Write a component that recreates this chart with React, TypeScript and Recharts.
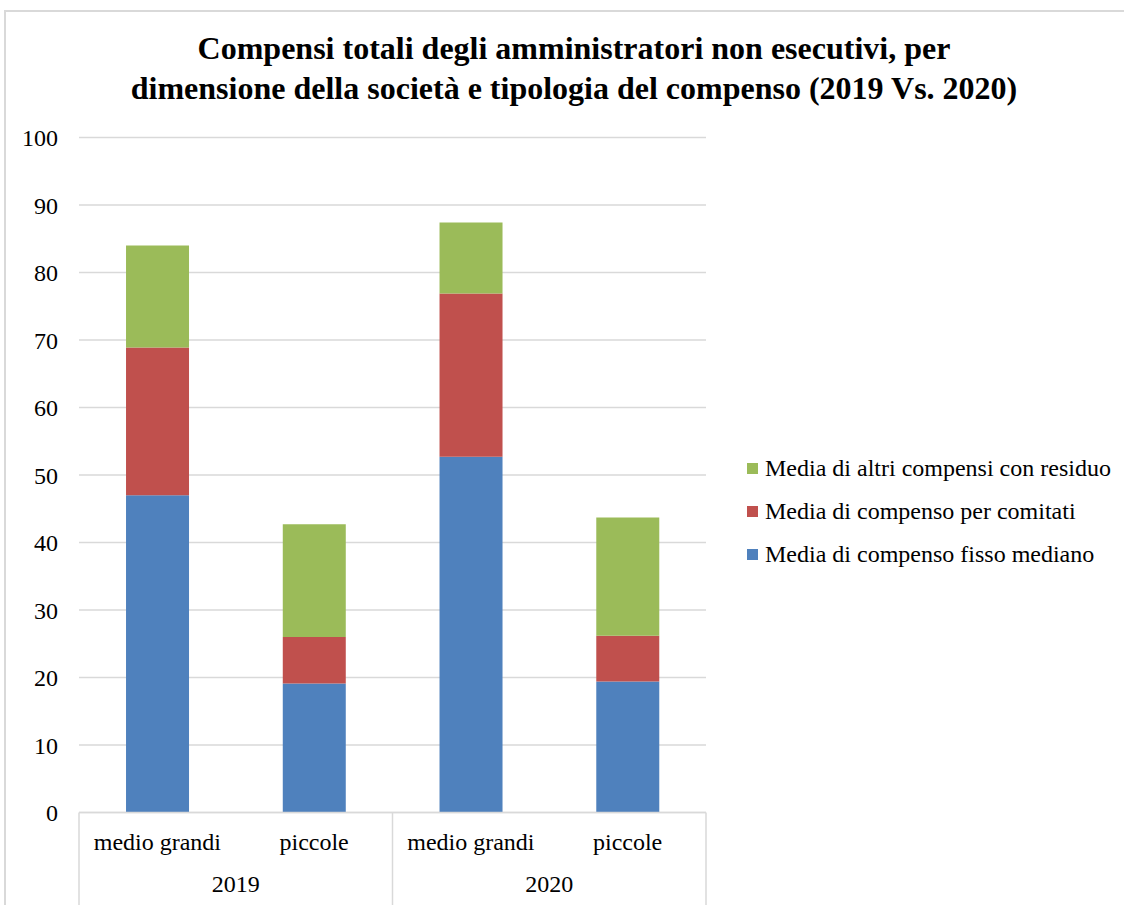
import React from "react";
import { BarChart, Bar, XAxis, YAxis, CartesianGrid, Legend } from "recharts";

const categories = ["medio grandi", "piccole", "medio grandi", "piccole"];
const years = ["2019", "2020"];
const fisso = [47.0, 19.1, 52.7, 19.4];
const comitati = [21.9, 6.9, 24.2, 6.8];
const altri = [15.1, 16.7, 10.5, 17.5];
const yTicks = [0, 10, 20, 30, 40, 50, 60, 70, 80, 90, 100];
const seriesNames = [
  "Media di compenso fisso mediano",
  "Media di compenso per comitati",
  "Media di altri compensi con residuo",
];
const seriesColors = ["#4f81bd", "#c0504d", "#9bbb59"];
const title = [
  "Compensi totali degli amministratori non esecutivi, per",
  "dimensione della società e tipologia del compenso (2019 Vs. 2020)",
];

const data = categories.map((c, i) => ({
  cat: c,
  idx: i,
  fisso: fisso[i],
  comitati: comitati[i],
  altri: altri[i],
}));

const FONT = "'Liberation Serif', 'Times New Roman', serif";
const GRID = "#d9d9d9";

const CatTick = (props: any) => {
  const { x, y, payload } = props;
  return (
    <text x={x} y={y + 32} textAnchor="middle" dominantBaseline="middle" fontFamily={FONT} fontSize={24} fill="#000">
      {categories[payload.value]}
    </text>
  );
};

const YearTick = (props: any) => {
  const { x, y, payload } = props;
  const v = payload.value;
  const isSep = Math.abs(v - Math.round(v + 0.5) + 0.5) < 1e-6 && [-0.5, 1.5, 3.5].includes(v);
  if (isSep) {
    return <line x1={x} x2={x} y1={y - 43} y2={y + 60} stroke={GRID} strokeWidth={1.5} />;
  }
  const yi = v < 1 ? 0 : 1;
  return (
    <text x={x} y={y + 31} textAnchor="middle" dominantBaseline="middle" fontFamily={FONT} fontSize={24} fill="#000">
      {years[yi]}
    </text>
  );
};

const LegendContent = () => {
  const order = [2, 1, 0];
  return (
    <div style={{ fontFamily: FONT, fontSize: 24, color: "#000" }}>
      {order.map((k) => (
        <div key={k} style={{ display: "flex", alignItems: "center", height: 43 }}>
          <span style={{ display: "inline-block", width: 11, height: 11, background: seriesColors[k], marginRight: 7 }} />
          <span style={{ whiteSpace: "nowrap" }}>{seriesNames[k]}</span>
        </div>
      ))}
    </div>
  );
};

export default function App() {
  return (
    <div style={{ position: "absolute", left: 0, top: 0, width: 1124, height: 905, background: "#fff", overflow: "hidden" }}>
      <div
        style={{
          position: "absolute",
          left: 4,
          top: 10,
          width: 1200,
          height: 1000,
          borderLeft: `2px solid ${GRID}`,
          borderTop: `2px solid ${GRID}`,
        }}
      />
      <div
        style={{
          position: "absolute",
          left: 0,
          top: 28,
          width: 1148,
          textAlign: "center",
          fontFamily: FONT,
          fontWeight: "bold",
          fontSize: 32,
          lineHeight: "40px",
          color: "#000",
        }}
      >
        <div>{title[0]}</div>
        <div>{title[1]}</div>
      </div>
      <div style={{ position: "absolute", left: 0, top: 0 }}>
        <BarChart
          width={1124}
          height={905}
          data={data}
          margin={{ top: 137.5, right: 418, bottom: 0, left: 0 }}
          barCategoryGap="30%"
        >
          <CartesianGrid vertical={false} stroke={GRID} strokeWidth={1.5} />
          <YAxis
            domain={[0, 100]}
            ticks={yTicks}
            width={79}
            axisLine={false}
            tickLine={false}
            tickSize={0}
            tickMargin={21}
            interval={0}
            tick={{ fontFamily: FONT, fontSize: 24, fill: "#000" }}
          />
          <XAxis
            dataKey="idx"
            height={43}
            axisLine={{ stroke: GRID, strokeWidth: 1.5 }}
            tickLine={false}
            tickSize={0}
            tickMargin={0}
            interval={0}
            tick={(p: any) => <CatTick {...p} />}
          />
          <XAxis
            xAxisId="yr"
            dataKey="idx"
            type="number"
            domain={[-0.5, 3.5]}
            allowDataOverflow={true}
            ticks={[-0.5, 0.5, 1.5, 2.5, 3.5]}
            height={49.5}
            axisLine={false}
            tickLine={false}
            tickSize={0}
            tickMargin={0}
            interval={0}
            tick={(p: any) => <YearTick {...p} />}
          />
          <Legend
            layout="vertical"
            align="center"
            verticalAlign="middle"
            content={() => <LegendContent />}
            wrapperStyle={{ position: "absolute", left: 747, top: 447, width: 370 }}
          />
          <Bar dataKey="fisso" name={seriesNames[0]} stackId="a" fill={seriesColors[0]} isAnimationActive={false} />
          <Bar dataKey="comitati" name={seriesNames[1]} stackId="a" fill={seriesColors[1]} isAnimationActive={false} />
          <Bar dataKey="altri" name={seriesNames[2]} stackId="a" fill={seriesColors[2]} isAnimationActive={false} />
        </BarChart>
      </div>
    </div>
  );
}
